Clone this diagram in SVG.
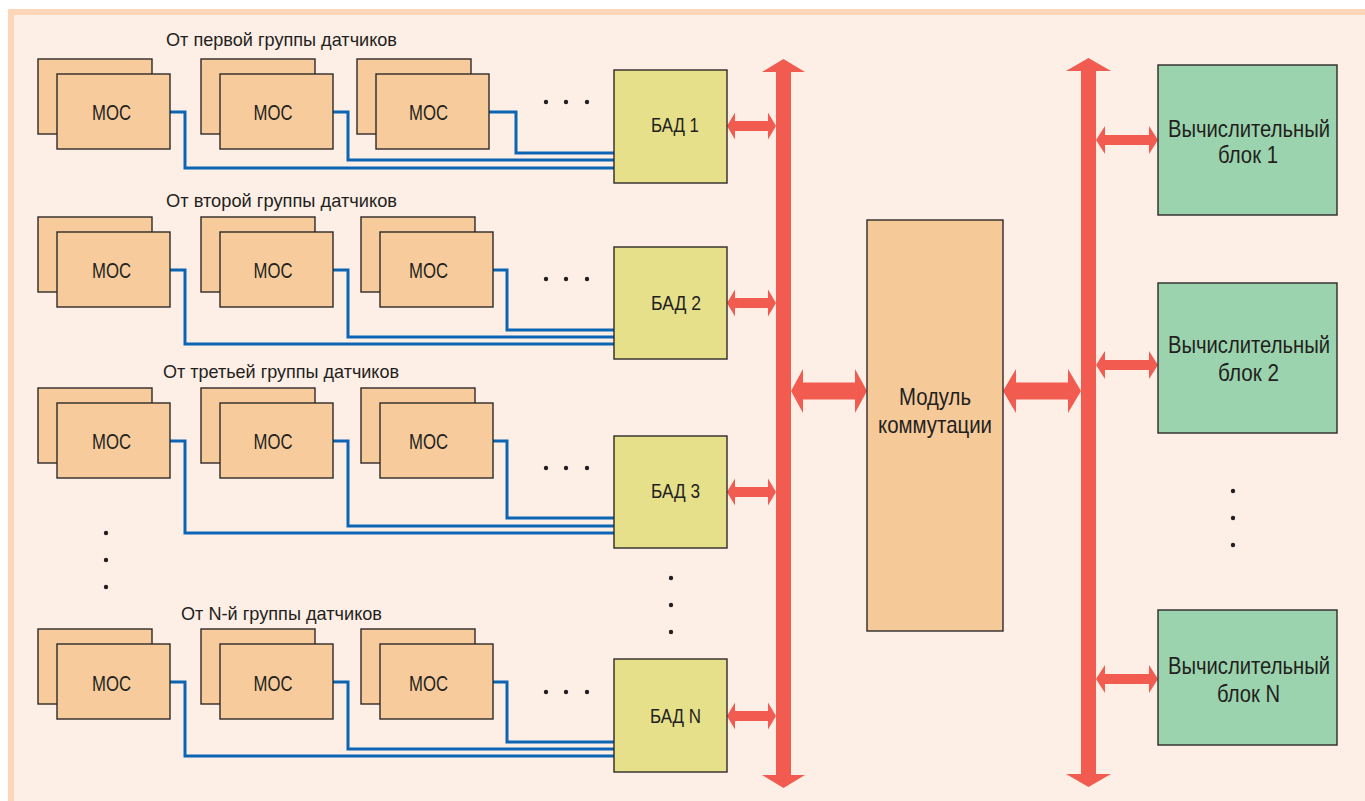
<svg xmlns="http://www.w3.org/2000/svg" width="1365" height="801" viewBox="0 0 1365 801">
<style>
.bg{fill:#fdeee6}
.frame{fill:#fdd6b8}
.mos{fill:#f7cb9b;stroke:#2e2a28;stroke-width:1.4}
.bad{fill:#e7e08b;stroke:#2e2a28;stroke-width:1.4}
.mod{fill:#f6c999;stroke:#2e2a28;stroke-width:1.4}
.comp{fill:#9bd3ae;stroke:#2e2a28;stroke-width:1.4}
.wire{fill:none;stroke:#0b64b4;stroke-width:3;stroke-linejoin:miter}
.red{fill:#f25b4f}
.dot{fill:#231f20}
text{font-family:"Liberation Sans Narrow","Liberation Sans",Arial,sans-serif;fill:#231f20;text-anchor:middle}
.t-mos{font-size:22px}
.t-bad{font-size:21px}
.t-lbl{font-size:19px}
.t-big{font-size:24px}
</style>
<defs>
<path id="arrBad" d="M0,0 L8,-13.5 L8,-5 L41,-5 L41,-13.5 L49,0 L41,13.5 L41,5 L8,5 L8,13.5 Z"/>
<path id="arrComp" d="M0,0 L9,-14 L9,-5 L53,-5 L53,-14 L62,0 L53,14 L53,5 L9,5 L9,14 Z"/>
<g id="mosPair">
<rect class="mos" x="0" y="0" width="114" height="75"/>
<rect class="mos" x="19" y="15" width="113" height="75"/>
</g>
</defs>
<rect x="0" y="0" width="1365" height="801" fill="#ffffff"/>
<rect class="frame" x="8" y="9" width="1362" height="797"/>
<rect class="bg" x="14" y="15" width="1356" height="791"/>

<g id="labels">
<text class="t-lbl" x="281.5" y="46" textLength="231" lengthAdjust="spacingAndGlyphs">От первой группы датчиков</text>
<text class="t-lbl" x="281.5" y="207" textLength="231" lengthAdjust="spacingAndGlyphs">От второй группы датчиков</text>
<text class="t-lbl" x="281" y="378" textLength="236" lengthAdjust="spacingAndGlyphs">От третьей группы датчиков</text>
<text class="t-lbl" x="281.5" y="620" textLength="201" lengthAdjust="spacingAndGlyphs">От N-й группы датчиков</text>
</g>

<g id="connectors">
<path class="wire" d="M170,112 H185 V168 H615"/>
<path class="wire" d="M333,112 H348 V160 H615"/>
<path class="wire" d="M488,112 H516 V153 H615"/>
<path class="wire" d="M170,270 H185 V344 H615"/>
<path class="wire" d="M333,270 H348 V337 H615"/>
<path class="wire" d="M492,270 H507 V330 H615"/>
<path class="wire" d="M170,441 H185 V533 H615"/>
<path class="wire" d="M333,441 H348 V526 H615"/>
<path class="wire" d="M492,441 H507 V518 H615"/>
<path class="wire" d="M170,682 H185 V756 H615"/>
<path class="wire" d="M333,682 H348 V749 H615"/>
<path class="wire" d="M492,682 H507 V742 H615"/>
<path class="red" d="M783.5,59 L805,72 L791,72 L791,775 L805,775 L783.5,788 L762,775 L776,775 L776,72 L762,72 Z"/>
<path class="red" d="M1088.5,58 L1111,71 L1096,71 L1096,774 L1111,774 L1088.5,787 L1066,774 L1081,774 L1081,71 L1066,71 Z"/>
<use href="#arrBad" class="red" x="727" y="126"/>
<use href="#arrBad" class="red" x="727" y="303"/>
<use href="#arrBad" class="red" x="727" y="492"/>
<use href="#arrBad" class="red" x="727" y="716"/>
<use href="#arrComp" class="red" x="1096" y="140"/>
<use href="#arrComp" class="red" x="1096" y="365"/>
<use href="#arrComp" class="red" x="1096" y="679"/>
<path class="red" d="M791,391 L803,369 L803,382.5 L855,382.5 L855,369 L867,391 L855,413 L855,399.5 L803,399.5 L803,413 Z"/>
<path class="red" d="M1003,391 L1016,369 L1016,382.5 L1068,382.5 L1068,369 L1081,391 L1068,413 L1068,399.5 L1016,399.5 L1016,413 Z"/>
</g>

<g id="mos-row1">
<use href="#mosPair" x="38" y="59"/>
<use href="#mosPair" x="201" y="59"/>
<use href="#mosPair" x="357" y="59"/>
<text class="t-mos" x="111.5" y="120" textLength="39" lengthAdjust="spacingAndGlyphs">МОС</text>
<text class="t-mos" x="273" y="120" textLength="39" lengthAdjust="spacingAndGlyphs">МОС</text>
<text class="t-mos" x="428.5" y="120" textLength="39" lengthAdjust="spacingAndGlyphs">МОС</text>
</g>
<g id="mos-row2">
<use href="#mosPair" x="38" y="217"/>
<use href="#mosPair" x="201" y="217"/>
<use href="#mosPair" x="361" y="217"/>
<text class="t-mos" x="111.5" y="278" textLength="39" lengthAdjust="spacingAndGlyphs">МОС</text>
<text class="t-mos" x="273" y="278" textLength="39" lengthAdjust="spacingAndGlyphs">МОС</text>
<text class="t-mos" x="428.5" y="278" textLength="39" lengthAdjust="spacingAndGlyphs">МОС</text>
</g>
<g id="mos-row3">
<use href="#mosPair" x="38" y="388"/>
<use href="#mosPair" x="201" y="388"/>
<use href="#mosPair" x="361" y="388"/>
<text class="t-mos" x="111.5" y="449" textLength="39" lengthAdjust="spacingAndGlyphs">МОС</text>
<text class="t-mos" x="273" y="449" textLength="39" lengthAdjust="spacingAndGlyphs">МОС</text>
<text class="t-mos" x="428.5" y="449" textLength="39" lengthAdjust="spacingAndGlyphs">МОС</text>
</g>
<g id="mos-rowN">
<use href="#mosPair" x="38" y="629"/>
<use href="#mosPair" x="201" y="629"/>
<use href="#mosPair" x="361" y="629"/>
<text class="t-mos" x="111.5" y="691" textLength="39" lengthAdjust="spacingAndGlyphs">МОС</text>
<text class="t-mos" x="273" y="691" textLength="39" lengthAdjust="spacingAndGlyphs">МОС</text>
<text class="t-mos" x="428.5" y="691" textLength="39" lengthAdjust="spacingAndGlyphs">МОС</text>
</g>

<g id="bad1">
<rect class="bad" x="614" y="70" width="113" height="113"/>
<text class="t-bad" x="675" y="132" textLength="48" lengthAdjust="spacingAndGlyphs">БАД 1</text>
</g>
<g id="bad2">
<rect class="bad" x="614" y="247" width="113" height="112"/>
<text class="t-bad" x="676" y="310" textLength="50" lengthAdjust="spacingAndGlyphs">БАД 2</text>
</g>
<g id="bad3">
<rect class="bad" x="614" y="436" width="113" height="112"/>
<text class="t-bad" x="675.5" y="498" textLength="49" lengthAdjust="spacingAndGlyphs">БАД 3</text>
</g>
<g id="badN">
<rect class="bad" x="614" y="659" width="113" height="113"/>
<text class="t-bad" x="675.5" y="723" textLength="51" lengthAdjust="spacingAndGlyphs">БАД N</text>
</g>

<g id="module">
<rect class="mod" x="867" y="220" width="136" height="411"/>
<text class="t-big" x="935" y="405" textLength="72" lengthAdjust="spacingAndGlyphs">Модуль</text>
<text class="t-big" x="935" y="433" textLength="114" lengthAdjust="spacingAndGlyphs">коммутации</text>
</g>

<g id="comp1">
<rect class="comp" x="1158" y="65" width="179" height="150"/>
<text class="t-big" x="1249" y="137" textLength="162" lengthAdjust="spacingAndGlyphs">Вычислительный</text>
<text class="t-big" x="1248" y="163" textLength="60" lengthAdjust="spacingAndGlyphs">блок 1</text>
</g>
<g id="comp2">
<rect class="comp" x="1158" y="283" width="179" height="150"/>
<text class="t-big" x="1249" y="353" textLength="162" lengthAdjust="spacingAndGlyphs">Вычислительный</text>
<text class="t-big" x="1248.5" y="381" textLength="61" lengthAdjust="spacingAndGlyphs">блок 2</text>
</g>
<g id="compN">
<rect class="comp" x="1158" y="610" width="179" height="135"/>
<text class="t-big" x="1249" y="674" textLength="162" lengthAdjust="spacingAndGlyphs">Вычислительный</text>
<text class="t-big" x="1248.5" y="702" textLength="63" lengthAdjust="spacingAndGlyphs">блок N</text>
</g>

<g id="ellipses">
<circle class="dot" cx="546" cy="102" r="2.2"/><circle class="dot" cx="566" cy="102" r="2.2"/><circle class="dot" cx="587" cy="102" r="2.2"/>
<circle class="dot" cx="546" cy="279" r="2.2"/><circle class="dot" cx="566" cy="279" r="2.2"/><circle class="dot" cx="587" cy="279" r="2.2"/>
<circle class="dot" cx="546" cy="468" r="2.2"/><circle class="dot" cx="566" cy="468" r="2.2"/><circle class="dot" cx="587" cy="468" r="2.2"/>
<circle class="dot" cx="546" cy="692" r="2.2"/><circle class="dot" cx="566" cy="692" r="2.2"/><circle class="dot" cx="587" cy="692" r="2.2"/>
<circle class="dot" cx="671" cy="578" r="2.2"/><circle class="dot" cx="671" cy="605" r="2.2"/><circle class="dot" cx="671" cy="632" r="2.2"/>
<circle class="dot" cx="106" cy="533" r="2.2"/><circle class="dot" cx="106" cy="560" r="2.2"/><circle class="dot" cx="106" cy="587" r="2.2"/>
<circle class="dot" cx="1233" cy="491" r="2.2"/><circle class="dot" cx="1233" cy="518" r="2.2"/><circle class="dot" cx="1233" cy="545" r="2.2"/>
</g>
</svg>
